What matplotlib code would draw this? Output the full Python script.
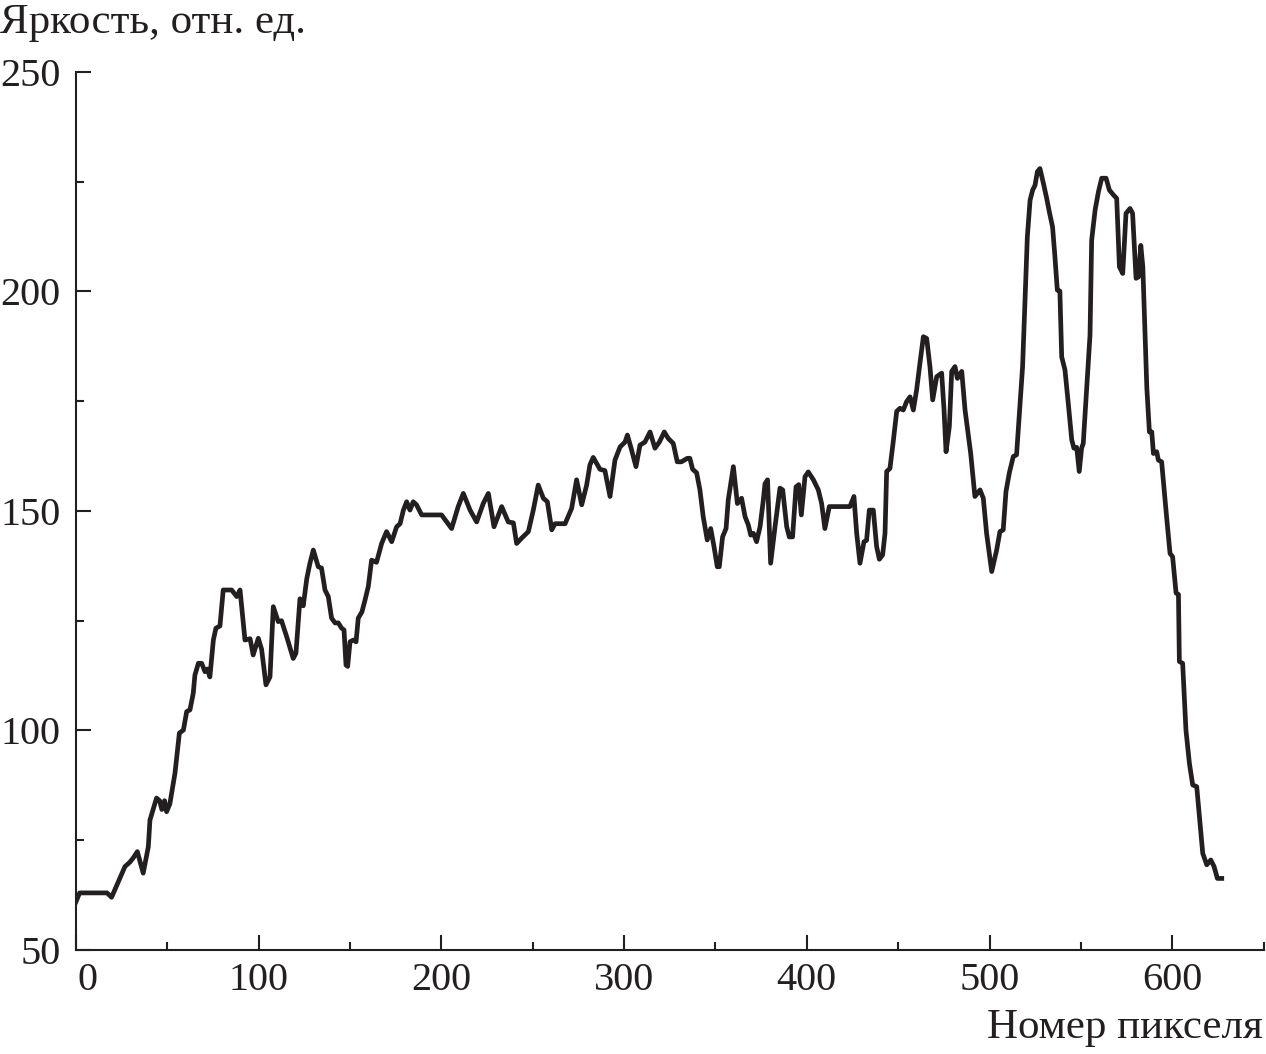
import matplotlib
matplotlib.use("Agg")
import matplotlib.pyplot as plt
import matplotlib.transforms as mtransforms
from matplotlib.ticker import MultipleLocator

plt.rcParams['font.family'] = ['Liberation Serif', 'DejaVu Serif']

# profile: pixel number vs brightness
pixel = [0, 2, 17, 19.5, 26.8, 29.5, 31.4, 33.6, 36.8, 39.6, 40.5, 44.1, 45.8, 47, 48.5,
         49.6, 51.4, 54.2, 56.6, 58.8, 60.6, 62.4, 64.2, 65.1, 67, 68.8, 70.6, 72, 73.3,
         75.2, 76.6, 78.8, 80.6, 85.2, 88, 89.8, 92.5, 95.3, 97, 99.8, 101.6, 104, 106.2,
         108, 110.7, 112.5, 115.3, 118.9, 120.4, 122.6, 124.4, 126.3, 128, 129.9, 132.6,
         134.4, 136.3, 138.1, 139.9, 141.8, 143.6, 145.4, 146.7, 147.8, 148.7, 150, 151.8,
         153.3, 154.5, 156.5, 158.2, 160, 161.8, 164.5, 167.3, 170, 172.8, 175.5, 177.4,
         179.2, 181, 182.8, 184.6, 186.4, 189.2, 200.1, 205.6, 209.2, 212, 215.7, 219.3,
         222.9, 225.7, 228.8, 233, 236.6, 239.4, 241.2, 243.9, 247.6, 250.3, 253, 255.8,
         258, 260.4, 262.2, 267.7, 271.3, 274, 276.8, 279.5, 281.3, 283.1, 286.8, 289.5,
         292.3, 295, 297.8, 300.5, 301.8, 304.1, 306.5, 308.7, 311.4, 314.2, 316.9, 319.3,
         322, 324.2, 326.9, 329.1, 331.4, 334.6, 336, 337.5, 339.7, 341.5, 343.3, 345.5,
         347.4, 349.2, 351, 352.1, 353.9, 355.8, 357, 359.8, 362, 364.3, 366.2, 368, 369.3,
         370.8, 372.5, 374.4, 376.2, 377.1, 378.5, 380.2, 382.6, 385.3, 386.8, 389, 390.4,
         392.2, 394.1, 395.6, 397, 399, 400.8, 403.6, 406.3, 408.1, 409.9, 412.3, 423.6,
         425.8, 427.3, 429.1, 431.3, 432.7, 434.2, 436.4, 438.2, 439.7, 441.5, 442.8, 443.7,
         445.5, 447.3, 449.2, 451, 452.8, 454.6, 456.5, 458.3, 460.1, 461.9, 463.8, 465.6,
         467.4, 468.9, 471.1, 473.8, 475.1, 476.2, 478, 479.3, 481.1, 482.4, 484.8, 486.6,
         489.7, 492, 494.8, 496.6, 498.4, 501.2, 503.9, 505.7, 507.5, 509, 510.8, 513,
         514.8, 516.7, 518.1, 519.4, 520.7, 522.2, 523.6, 524.9, 526.2, 527.6, 529.5, 531.3,
         532.7, 534.5, 535.8, 537.1, 538.5, 539.5, 541.3, 543.1, 545, 546.2, 547.7, 549.1,
         550.4, 551.3, 553.2, 555, 555.9, 557.8, 559.6, 561.4, 563.8, 565.6, 567.8, 569.6,
         571.1, 572.9, 574.7, 576.9, 578.3, 580.2, 581.5, 582.8, 583.9, 586.1, 587.5, 588.8,
         589.7, 591.5, 592.4, 594.2, 596.9, 598.8, 600.2, 602.1, 603.4, 603.9, 605.7, 607.5,
         609.4, 611.2, 613.4, 615.2, 616.7, 618.9, 621.1, 622.9, 624.7, 627.1]

brightness = [61, 63, 63, 62, 69, 70, 71, 72.4, 67.5, 73.5, 79.6, 84.6, 84, 82, 84,
              81.5, 83.3, 90.3, 99.4, 100.1, 104.3, 104.7, 108.5, 112.6, 115.3, 115.3, 113.4, 114, 112.2,
              120.6, 123.3, 123.8, 132, 132, 130.5, 132, 120.6, 120.9, 117.2, 121, 118.5, 110.4, 112.2,
              128.2, 124.8, 125, 121.4, 116.4, 117.6, 130, 128.4, 134.5, 138, 141.1, 137.3,
              137, 132, 130.5, 125.6, 124.5, 124.5, 123.3, 122.9, 114.9, 114.6, 120.2, 120.6,
              120.2, 125.6, 127, 129.7, 132.8, 138.8, 138.3, 142.6, 145.3, 143, 146.4, 147.1,
              150.2, 152.1, 150.2, 152.1, 151.4, 149.1, 149.1, 146, 151, 154, 150.2, 147.5,
              151.7, 154, 146.4, 151, 147.5, 147.3, 142.6, 143.8, 145.3, 150.2, 155.9, 152.9,
              152.1, 145.7, 147.1, 147.1, 150.6, 157.1, 151.4, 155.9, 160.5, 162.2, 159.5, 159.2,
              153.3, 161.6, 164.6, 165.7, 167.3, 163.9, 160.1, 165, 165.7, 168, 164.3, 165.7,
              168, 166.5, 165.4, 161.2, 161.2, 162, 162, 159.5, 158.7, 154.8, 148.7, 143.4,
              146, 141.9, 137.3, 137.3, 144.1, 146, 152.5, 160.1, 151.7, 152.9, 148.7, 146.8, 144.5,
              144.9, 143, 146.4, 152.5, 156.2, 157.1, 138.1, 146.4, 155.2, 154.8, 146.4, 144.1,
              144.1, 155.5, 156, 149.1, 157.8, 158.9, 157.1, 154.8, 151.7, 146, 151, 151,
              153.3, 144.9, 138.1, 143, 143.3, 150.2, 150.2, 141.9, 139, 140, 144.9, 159,
              159.7, 165.8, 172.7, 173.4, 173, 174.9, 176, 173, 177.6, 183.6, 189.7, 189.3,
              182.9, 175.3, 180.6, 181.4, 173, 163.5, 169.2, 181.8, 182.9, 180.2, 181.8, 173,
              163.1, 153.3, 154.8, 152.9, 144.9, 136.2, 141.1, 145.3, 145.7, 154.4, 158.6, 162.4,
              162.8, 174.5, 182.9, 198, 212.5, 220.8, 223.1, 224.2, 227.3, 228, 224.6, 221.2,
              218.2, 214.7, 207.9, 200.3, 200.1, 185.1, 182.1, 174.5, 166.2, 164.3, 164.5, 159,
              164.3, 165.4, 177.9, 190.1, 211.7, 218.6, 222.7, 225.8, 225.8, 223.1, 222, 221.2,
              205.6, 204.1, 217.8, 218.9, 217.8, 203, 203.3, 210.5, 205.6, 178, 168, 168,
              163.1, 163.5, 161.6, 161.2, 148.7, 140.3, 139.6, 131.3, 131, 115.7, 115.3, 100.1,
              92.5, 87.6, 87.2, 78.9, 72, 69.4, 70.5, 69, 66.3, 66.3]

x_ticks = [0, 100, 200, 300, 400, 500, 600]
y_ticks = [50, 100, 150, 200, 250]

ink = '#231f20'

fig = plt.figure(figsize=(12.66, 10.54), dpi=100)
ax = fig.add_axes([0.060, 0.0987, 0.9381, 0.833])

ax.plot(pixel, brightness, color=ink, lw=3.4, solid_joinstyle='round')

ax.set_xlim(0, 650)
ax.set_ylim(50, 250)
ax.set_xticks(x_ticks)
ax.set_yticks(y_ticks)
ax.xaxis.set_minor_locator(MultipleLocator(50))
ax.yaxis.set_minor_locator(MultipleLocator(25))

for s in ['top', 'right']:
    ax.spines[s].set_visible(False)
for s in ['left', 'bottom']:
    ax.spines[s].set_linewidth(1.5)
    ax.spines[s].set_color(ink)

ax.tick_params(which='both', direction='in', color=ink, width=1.5,
               labelsize=29, labelcolor=ink)
ax.tick_params(which='major', length=10.5)
ax.tick_params(which='minor', length=5.5)
ax.tick_params(axis='y', pad=11)
ax.tick_params(axis='x', pad=9)

# the "0" label sits a bit to the right of the corner
lbl0 = ax.xaxis.get_major_ticks()[0].label1
lbl0.set_transform(lbl0.get_transform() +
                   mtransforms.ScaledTranslation(12 / 100, 0, fig.dpi_scale_trans))

fig.text(0.0, 1 - 23 / 1054, 'Яркость, отн. ед.', fontsize=31, color=ink,
         ha='left', va='center')
fig.text(1263 / 1266, 1 - 1028 / 1054, 'Номер пикселя', fontsize=31, color=ink,
         ha='right', va='center')

fig.savefig('out.png', dpi=100)
